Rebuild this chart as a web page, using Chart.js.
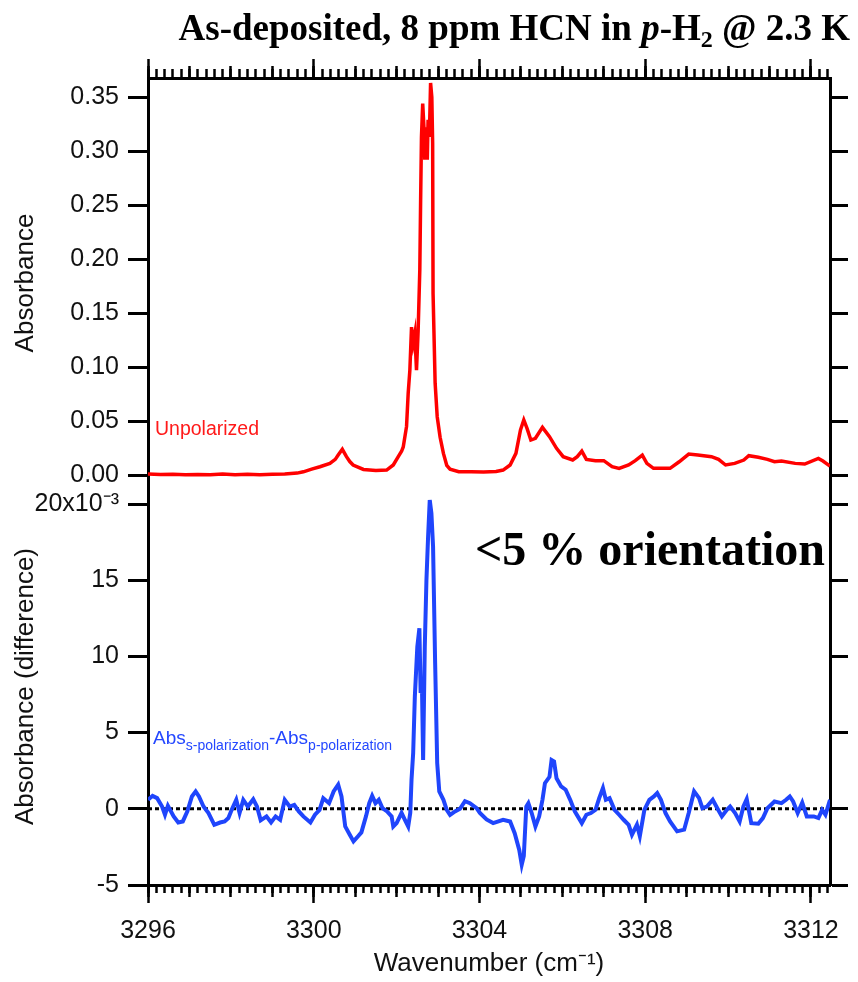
<!DOCTYPE html>
<html lang="en">
<head>
    <meta charset="UTF-8">
    <title>HCN in p-H2 spectrum</title>
    <script src="https://cdn.jsdelivr.net/npm/chart.js@4.4.1/dist/chart.umd.min.js"></script>
    <style>
        body {
            margin: 0;
            background: #fff;
        }
        #wrap {
            position: relative;
            width: 858px;
            height: 982px;
            overflow: hidden;
        }
        #wrap canvas {
            position: absolute;
            left: 0;
            top: 0;
        }
        .note {
            position: absolute;
            white-space: nowrap;
            z-index: 2;
        }
        .title {
            right: 8px;
            top: 9px;
            font: bold 37px/37px 'Liberation Serif', 'Times New Roman', serif;
            color: #000;
        }
        .title sub {
            font-size: 65%;
            vertical-align: baseline;
            position: relative;
            top: 0.3em;
        }
        .orient {
            right: 33px;
            top: 525px;
            font: bold 48px/48px 'Liberation Serif', 'Times New Roman', serif;
            color: #000;
        }
        .unpol {
            left: 155px;
            top: 418px;
            font: 19.5px/20px 'Liberation Sans', Arial, sans-serif;
            color: #ff1a1a;
        }
        .diff {
            left: 153px;
            top: 728px;
            font: 19px/20px 'Liberation Sans', Arial, sans-serif;
            color: #2447ff;
        }
        .diff sub {
            font-size: 14px;
            vertical-align: baseline;
            position: relative;
            top: 6px;
        }
    </style>
</head>
<body>

<div id="wrap">
    <canvas id="topChart" width="858" height="982"></canvas>
    <canvas id="botChart" width="858" height="982"></canvas>
    <div class="note title">As-deposited, 8 ppm HCN in <i>p</i>-H<sub>2</sub> @ 2.3 K</div>
    <div class="note orient">&lt;5 % orientation</div>
    <div class="note unpol">Unpolarized</div>
    <div class="note diff">Abs<sub>s-polarization</sub>-Abs<sub>p-polarization</sub></div>
</div>

<script>
  // axis ranges (wavenumber in cm-1)
  const xMin = 3296;
  const xMax = 3312.46;
  const xMajorTicks = [3296, 3300, 3304, 3308, 3312];
  const topYTicks = [0, 0.05, 0.10, 0.15, 0.20, 0.25, 0.30, 0.35];
  const botYTicks = [-5, 0, 5, 10, 15, 20]; // x10^-3

  // unpolarized spectrum
  const redWn = [3296.0, 3296.3, 3296.6, 3296.9, 3297.2, 3297.5, 3297.8, 3298.1, 3298.4, 3298.7,
    3299.0, 3299.3, 3299.6, 3299.75, 3299.95, 3300.15, 3300.39, 3300.52, 3300.59, 3300.69,
    3300.79, 3300.87, 3300.95, 3301.2, 3301.5, 3301.76, 3301.92, 3302.04, 3302.12, 3302.16,
    3302.24, 3302.28, 3302.32, 3302.36, 3302.40, 3302.44, 3302.48, 3302.52, 3302.56, 3302.58,
    3302.60, 3302.63, 3302.66, 3302.68, 3302.71, 3302.74, 3302.76, 3302.79, 3302.82, 3302.85,
    3302.87, 3302.88, 3302.93, 3302.98, 3303.05, 3303.13, 3303.21, 3303.29, 3303.5, 3303.8,
    3304.1, 3304.4, 3304.57, 3304.74, 3304.88, 3304.99, 3305.07, 3305.15, 3305.24, 3305.35,
    3305.52, 3305.69, 3305.86, 3306.02, 3306.25, 3306.36, 3306.47, 3306.58, 3306.8, 3307.0,
    3307.2, 3307.37, 3307.6, 3307.76, 3307.93, 3308.04, 3308.2, 3308.6, 3308.82, 3309.05,
    3309.27, 3309.6, 3309.77, 3309.94, 3310.16, 3310.38, 3310.5, 3310.73, 3310.95, 3311.12,
    3311.29, 3311.62, 3311.85, 3312.18, 3312.29, 3312.46];
  const redAbs = [0.001, 0.0005, 0.0008, 0.0002, 0.0006, 0.0003, 0.0009, 0.0002, 0.0007, 0.0003,
    0.0008, 0.0010, 0.0018, 0.003, 0.0055, 0.0077, 0.0108, 0.0145, 0.0185, 0.0238,
    0.017, 0.0125, 0.0093, 0.0052, 0.0042, 0.0046, 0.0093, 0.017, 0.022, 0.026,
    0.045, 0.076, 0.097, 0.137, 0.122, 0.131, 0.097, 0.134, 0.19, 0.255,
    0.313, 0.344, 0.322, 0.292, 0.322, 0.292, 0.329, 0.313, 0.363, 0.350,
    0.307, 0.168, 0.085, 0.054, 0.035, 0.020, 0.009, 0.0055, 0.0031, 0.0031,
    0.0028, 0.0033, 0.0046, 0.0093, 0.0201, 0.0417, 0.051, 0.043, 0.0324, 0.034,
    0.0441, 0.0355, 0.0247, 0.017, 0.0139, 0.017, 0.0222, 0.0145, 0.0133, 0.0133,
    0.0077, 0.0062, 0.0093, 0.0133, 0.0185, 0.0108, 0.0062, 0.0062, 0.0123, 0.0194,
    0.0185, 0.017, 0.0145, 0.0093, 0.0108, 0.0139, 0.0179, 0.0164, 0.0145, 0.0123,
    0.013, 0.0108, 0.0102, 0.0154, 0.013, 0.0083];

  // s-polarization minus p-polarization (x10^-3)
  const blueWn = [3296.0, 3296.11, 3296.22, 3296.34, 3296.41, 3296.48, 3296.62, 3296.73, 3296.84, 3296.95,
    3297.06, 3297.15, 3297.23, 3297.34, 3297.46, 3297.6, 3297.74, 3297.85, 3297.94, 3298.02,
    3298.13, 3298.21, 3298.30, 3298.41, 3298.54, 3298.63, 3298.72, 3298.86, 3298.97, 3299.08,
    3299.19, 3299.3, 3299.42, 3299.53, 3299.64, 3299.75, 3299.92, 3300.03, 3300.14, 3300.23,
    3300.37, 3300.48, 3300.59, 3300.67, 3300.76, 3300.87, 3300.96, 3301.07, 3301.15, 3301.26,
    3301.34, 3301.41, 3301.49, 3301.57, 3301.66, 3301.77, 3301.88, 3301.92, 3302.0, 3302.12,
    3302.2, 3302.28, 3302.33, 3302.36, 3302.40, 3302.44, 3302.50, 3302.55, 3302.58, 3302.61,
    3302.64, 3302.68, 3302.72, 3302.76, 3302.80, 3302.84, 3302.88, 3302.93, 3302.98, 3303.03,
    3303.13, 3303.21, 3303.29, 3303.41, 3303.53, 3303.65, 3303.77, 3303.93, 3304.01, 3304.17,
    3304.33, 3304.57, 3304.74, 3304.85, 3304.96, 3305.02, 3305.07, 3305.13, 3305.18, 3305.26,
    3305.35, 3305.44, 3305.52, 3305.58, 3305.69, 3305.74, 3305.80, 3305.86, 3305.97, 3306.08,
    3306.19, 3306.30, 3306.47, 3306.58, 3306.69, 3306.80, 3306.89, 3306.98, 3307.05, 3307.14,
    3307.26, 3307.37, 3307.48, 3307.6, 3307.68, 3307.8, 3307.87, 3307.98, 3308.1, 3308.21,
    3308.29, 3308.38, 3308.49, 3308.6, 3308.77, 3308.94, 3309.05, 3309.18, 3309.3, 3309.38,
    3309.49, 3309.63, 3309.74, 3309.85, 3309.97, 3310.05, 3310.17, 3310.28, 3310.37, 3310.45,
    3310.56, 3310.73, 3310.84, 3310.95, 3311.12, 3311.29, 3311.4, 3311.49, 3311.57, 3311.68,
    3311.79, 3311.9, 3312.07, 3312.18, 3312.27, 3312.35, 3312.46];
  const blueDiff = [0.59, 0.85, 0.70, 0.15, -0.39, 0.2, -0.5, -0.9, -0.83, -0.17,
    0.81, 1.14, 0.81, 0.15, -0.28, -1.05, -0.9, -0.83, -0.61, -0.07,
    0.59, -0.28, 0.59, 0.15, 0.63, 0.15, -0.76, -0.5, -0.9, -0.5,
    -0.72, 0.59, 0.15, 0.26, -0.17, -0.5, -0.9, -0.39, -0.07, 0.70,
    0.37, 1.14, 1.58, 0.81, -1.16, -1.7, -2.14, -1.8, -1.55, -0.5,
    0.37, 0.85, 0.37, 0.59, 0.04, -0.17, -0.5, -1.16, -0.94, -0.27,
    -0.72, -1.16, -0.27, 1.9, 3.67, 7.36, 10.64, 11.85, 7.6, 8.46,
    3.2, 10.64, 15.0, 17.86, 20.26, 19.4, 17.2, 9.57, 3.0, 1.14,
    0.59, -0.07, -0.4, -0.17, 0.0, 0.5, 0.37, 0.04, -0.27, -0.7,
    -0.94, -0.72, -0.83, -1.6, -2.7, -3.67, -3.1, 0.15, 0.37, -0.28,
    -1.16, -0.5, 0.59, 1.68, 2.1, 3.2, 3.1, 2.0, 1.47, 1.25,
    0.59, -0.17, -0.94, -0.39, -0.28, -0.07, 0.70, 1.36, 0.59, 0.70,
    -0.07, -0.39, -0.72, -1.05, -1.7, -1.05, -1.8, -0.07, 0.59, 0.81,
    1.03, 0.59, -0.28, -0.83, -1.48, -1.37, -0.28, 1.14, 0.70, 0.04,
    0.15, 0.59, 0.04, -0.5, -0.07, 0.15, -0.28, -0.83, 0.15, 0.63,
    -0.94, -0.98, -0.61, 0.04, 0.48, 0.37, 0.59, 0.81, 0.48, -0.28,
    0.41, -0.5, -0.5, -0.61, -0.07, -0.39, 0.59];

  Chart.defaults.font.family = "'Liberation Sans', Arial, sans-serif";
  Chart.defaults.color = '#000';

  const toPts = (xs, ys) => xs.map((x, i) => ({x: x, y: ys[i]}));
  const fixTicks = list => (s => { s.ticks = list.map(v => ({value: v})); });
  // evenly spaced tick marks from xMin, used for the unlabelled medium and minor marks
  const stepTicks = step => (s => {
    const n = Math.floor((xMax - xMin) / step + 1e-6);
    s.ticks = Array.from({length: n + 1}, (_, i) => ({value: xMin + i * step}));
  });

  // extra x axes with no height, used only for the medium and minor tick marks
  function tickAxis(position, step, len, weight) {
    return {
      type: 'linear', axis: 'x', position: position, weight: weight,
      min: xMin, max: xMax,
      afterBuildTicks: stepTicks(step),
      ticks: {display: false},
      grid: {drawOnChartArea: false, tickLength: len, tickWidth: 2.5, tickColor: '#000'},
      border: {display: false},
      afterFit: s => { s.height = 0; }
    };
  }

  function leftAxis(min, max, list, title, fmt) {
    return {
      type: 'linear', position: 'left', min: min, max: max,
      afterBuildTicks: fixTicks(list),
      ticks: {font: {size: 25}, padding: 9, color: '#111', callback: fmt},
      grid: {drawOnChartArea: false, tickLength: 20, tickWidth: 3, tickColor: '#000'},
      border: {display: true, width: 3, color: '#000'},
      title: {display: true, text: title, font: {size: 26}, color: '#111', padding: {top: 10, bottom: 0}},
      afterFit: s => { s.width = 148; }
    };
  }

  function rightAxis(min, max, list) {
    return {
      type: 'linear', position: 'right', min: min, max: max,
      afterBuildTicks: fixTicks(list),
      ticks: {display: false},
      grid: {drawOnChartArea: false, tickLength: 18, tickWidth: 3, tickColor: '#000'},
      border: {display: true, width: 3, color: '#000'},
      afterFit: s => { s.width = 28; }
    };
  }

  const common = {
    responsive: false,
    animation: false,
    devicePixelRatio: 1,
    plugins: {legend: {display: false}, tooltip: {enabled: false}},
    elements: {point: {radius: 0}, line: {tension: 0}}
  };

  // upper panel: unpolarized absorbance
  new Chart(document.getElementById('topChart'), {
    type: 'line',
    data: {
      datasets: [{
        data: toPts(redWn, redAbs),
        borderColor: '#ff0000',
        borderWidth: 3.5,
        xAxisID: 'x',
        yAxisID: 'y'
      }]
    },
    options: Object.assign({}, common, {
      layout: {padding: {top: 78, bottom: 494, left: 0, right: 0}},
      scales: {
        x: {
          type: 'linear', position: 'top', weight: 0, min: xMin, max: xMax,
          afterBuildTicks: fixTicks(xMajorTicks),
          ticks: {display: false},
          grid: {drawOnChartArea: false, tickLength: 19, tickWidth: 2.5, tickColor: '#000'},
          border: {display: true, width: 3, color: '#000'},
          afterFit: s => { s.height = 0; }
        },
        xMid: tickAxis('top', 1, 12, 1),
        xMinor: tickAxis('top', 0.2, 9, 2),
        y: leftAxis(-0.012, 0.3676, topYTicks, 'Absorbance', v => v.toFixed(2)),
        yr: rightAxis(-0.012, 0.3676, topYTicks)
      }
    })
  });

  // lower panel: polarization difference
  new Chart(document.getElementById('botChart'), {
    type: 'line',
    data: {
      datasets: [{
        data: toPts(blueWn, blueDiff),
        borderColor: '#1f45fc',
        borderWidth: 4,
        xAxisID: 'x',
        yAxisID: 'y'
      }, {
        data: [{x: xMin, y: 0}, {x: xMax, y: 0}],
        borderColor: '#000',
        borderWidth: 3,
        borderDash: [4, 3],
        xAxisID: 'x',
        yAxisID: 'y'
      }]
    },
    options: Object.assign({}, common, {
      layout: {padding: {top: 488, bottom: 0, left: 0, right: 0}},
      scales: {
        xMid: tickAxis('bottom', 1, 12, 0),
        xMinor: tickAxis('bottom', 0.2, 8, 0),
        x: {
          type: 'linear', position: 'bottom', weight: 2, min: xMin, max: xMax,
          afterBuildTicks: fixTicks(xMajorTicks),
          ticks: {font: {size: 25}, padding: 13, color: '#111', maxRotation: 0, autoSkip: false,
            callback: v => String(v)},
          grid: {drawOnChartArea: false, tickLength: 18, tickWidth: 2.5, tickColor: '#000'},
          border: {display: true, width: 3, color: '#000'},
          title: {display: true, text: 'Wavenumber (cm\u207B\u00B9)', font: {size: 26}, color: '#111',
            padding: {top: 0, bottom: 3}},
          afterFit: s => { s.height = 97; }
        },
        y: leftAxis(-5, 21.05, botYTicks, 'Absorbance (difference)',
          v => v === 20 ? '20x10\u207B\u00B3' : String(v)),
        yr: rightAxis(-5, 21.05, botYTicks)
      }
    })
  });
</script>

</body>
</html>
